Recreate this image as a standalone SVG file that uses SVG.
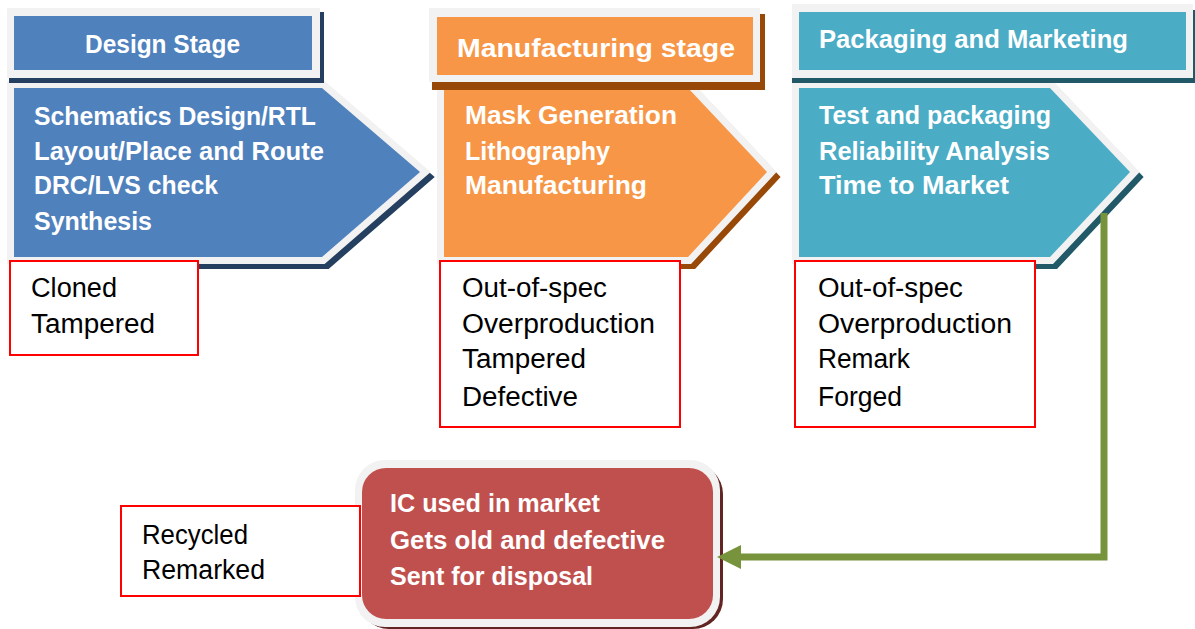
<svg xmlns="http://www.w3.org/2000/svg" width="1195" height="629" viewBox="0 0 1195 629">
<style>
.frame{fill:#F2F2F2}
.bt{font-family:"Liberation Sans",Arial,sans-serif;font-weight:bold;fill:#FFFFFF;font-size:25px}
.ht{font-family:"Liberation Sans",Arial,sans-serif;font-weight:bold;fill:#FFFFFF;font-size:26px}
.rt{font-family:"Liberation Sans",Arial,sans-serif;fill:#000000;font-size:27px}
.threat{fill:#FFFFFF;stroke:#FF0000;stroke-width:2}
.pent-frame{fill:#F2F2F2;stroke:#F2F2F2;stroke-width:14;stroke-linejoin:miter;stroke-miterlimit:4}
.conn{fill:none;stroke:#77933C;stroke-width:7}
</style>
<defs>
<marker id="arrow" viewBox="0 0 24 24" refX="0" refY="12" markerWidth="24" markerHeight="24" markerUnits="userSpaceOnUse" orient="auto">
<path d="M0,0 L24,12 L0,24 Z" fill="#77933C"/>
</marker>
</defs>
<rect width="1195" height="629" fill="#FFFFFF"/>

<!-- Pentagons (stage bodies) -->
<g id="design-stage">
<polygon points="18,93 326,93 424,177 326,262 18,262" fill="#243F60" stroke="#243F60" stroke-width="14" stroke-linejoin="miter"/>
<polygon class="pent-frame" points="14,88 322,88 420,172 322,257 14,257"/>
<polygon points="14,88 322,88 420,172 322,257 14,257" fill="#4F81BD"/>
<text class="bt" x="34" y="125" textLength="282" lengthAdjust="spacingAndGlyphs">Schematics Design/RTL</text>
<text class="bt" x="34" y="160" textLength="290" lengthAdjust="spacingAndGlyphs">Layout/Place and Route</text>
<text class="bt" x="34" y="194" textLength="184" lengthAdjust="spacingAndGlyphs">DRC/LVS check</text>
<text class="bt" x="34" y="230" textLength="118" lengthAdjust="spacingAndGlyphs">Synthesis</text>
</g>

<g id="mfg-stage">
<polygon points="448,93 692,93 771,177 692,262 448,262" fill="#984807" stroke="#984807" stroke-width="14" stroke-linejoin="miter"/>
<polygon class="pent-frame" points="444,88 688,88 767,172 688,257 444,257"/>
<polygon points="444,88 688,88 767,172 688,257 444,257" fill="#F79646"/>
<text class="bt" x="465" y="124" textLength="212" lengthAdjust="spacingAndGlyphs">Mask Generation</text>
<text class="bt" x="465" y="160" textLength="145" lengthAdjust="spacingAndGlyphs">Lithography</text>
<text class="bt" x="465" y="194" textLength="182" lengthAdjust="spacingAndGlyphs">Manufacturing</text>
</g>

<g id="pkg-stage">
<polygon points="803,93 1054,93 1134,177 1054,262 803,262" fill="#215968" stroke="#215968" stroke-width="14" stroke-linejoin="miter"/>
<polygon class="pent-frame" points="799,88 1050,88 1130,172 1050,257 799,257"/>
<polygon points="799,88 1050,88 1130,172 1050,257 799,257" fill="#4BACC6"/>
<text class="bt" x="819" y="124" textLength="232" lengthAdjust="spacingAndGlyphs">Test and packaging</text>
<text class="bt" x="819" y="160" textLength="231" lengthAdjust="spacingAndGlyphs">Reliability Analysis</text>
<text class="bt" x="819" y="194" textLength="190" lengthAdjust="spacingAndGlyphs">Time to Market</text>
</g>

<!-- Headers -->
<g id="design-header">
<rect x="9" y="12" width="315" height="71" fill="#243F60"/>
<rect class="frame" x="7" y="8" width="313" height="70"/>
<rect x="14" y="16" width="298" height="54" fill="#4F81BD"/>
<text class="ht" x="85" y="53" textLength="155" lengthAdjust="spacingAndGlyphs">Design Stage</text>
</g>

<g id="mfg-header">
<rect x="432" y="14" width="333" height="76" fill="#984807"/>
<rect class="frame" x="429" y="8" width="331" height="74"/>
<rect x="437" y="17" width="316" height="58" fill="#F79646"/>
<text class="ht" x="457" y="57" textLength="278" lengthAdjust="spacingAndGlyphs">Manufacturing stage</text>
</g>

<g id="pkg-header">
<rect x="792" y="10" width="405" height="73" fill="#215968"/>
<rect class="frame" x="792" y="4" width="401" height="74"/>
<rect x="799" y="12" width="387" height="58" fill="#4BACC6"/>
<text class="ht" x="819" y="48" textLength="309" lengthAdjust="spacingAndGlyphs">Packaging and Marketing</text>
</g>

<!-- Threat boxes -->
<g id="design-threats">
<rect class="threat" x="10" y="261" width="188" height="94"/>
<text class="rt" x="31" y="297" textLength="86" lengthAdjust="spacingAndGlyphs">Cloned</text>
<text class="rt" x="31" y="333" textLength="124" lengthAdjust="spacingAndGlyphs">Tampered</text>
</g>

<g id="mfg-threats">
<rect class="threat" x="440" y="261" width="240" height="166"/>
<text class="rt" x="462" y="297" textLength="145" lengthAdjust="spacingAndGlyphs">Out-of-spec</text>
<text class="rt" x="462" y="333" textLength="193" lengthAdjust="spacingAndGlyphs">Overproduction</text>
<text class="rt" x="462" y="368" textLength="124" lengthAdjust="spacingAndGlyphs">Tampered</text>
<text class="rt" x="462" y="406" textLength="116" lengthAdjust="spacingAndGlyphs">Defective</text>
</g>

<g id="pkg-threats">
<rect class="threat" x="795" y="261" width="240" height="166"/>
<text class="rt" x="818" y="297" textLength="145" lengthAdjust="spacingAndGlyphs">Out-of-spec</text>
<text class="rt" x="818" y="333" textLength="194" lengthAdjust="spacingAndGlyphs">Overproduction</text>
<text class="rt" x="818" y="368" textLength="92" lengthAdjust="spacingAndGlyphs">Remark</text>
<text class="rt" x="818" y="406" textLength="84" lengthAdjust="spacingAndGlyphs">Forged</text>
</g>

<!-- Market box -->
<g id="market">
<rect x="359" y="464" width="364" height="165" rx="30" fill="#632523"/>
<rect class="frame" x="355" y="460" width="365" height="167" rx="30"/>
<rect x="362" y="468" width="351" height="151" rx="24" fill="#C0504D"/>
<text class="bt" x="390" y="512" textLength="210" lengthAdjust="spacingAndGlyphs">IC used in market</text>
<text class="bt" x="390" y="549" textLength="275" lengthAdjust="spacingAndGlyphs">Gets old and defective</text>
<text class="bt" x="390" y="585" textLength="203" lengthAdjust="spacingAndGlyphs">Sent for disposal</text>
</g>

<g id="market-threats">
<rect class="threat" x="121" y="506" width="239" height="90"/>
<text class="rt" x="142" y="544" textLength="106" lengthAdjust="spacingAndGlyphs">Recycled</text>
<text class="rt" x="142" y="579" textLength="123" lengthAdjust="spacingAndGlyphs">Remarked</text>
</g>

<!-- Connectors -->
<g id="connectors">
<path class="conn" d="M1104,213 V557 H741" marker-end="url(#arrow)"/>
</g>
</svg>
